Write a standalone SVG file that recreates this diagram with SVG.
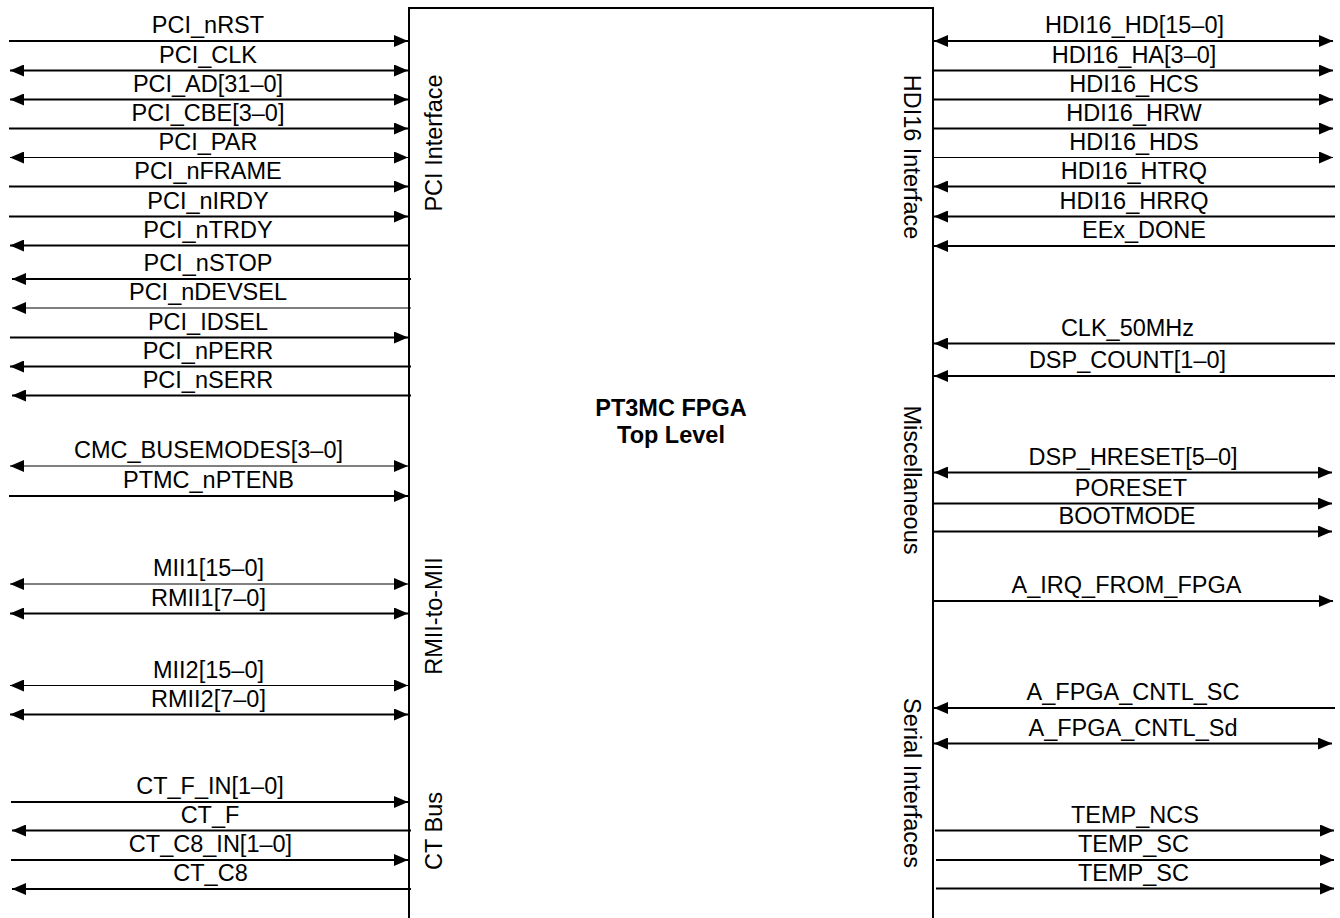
<svg xmlns="http://www.w3.org/2000/svg" width="1340" height="918" viewBox="0 0 1340 918">
<style>
text{font-family:"Liberation Sans",Arial,sans-serif;font-size:23.5px;fill:#000}
.lbl{text-anchor:middle}
.t{font-weight:bold;text-anchor:middle}
.w{stroke:#000;stroke-width:2;fill:none}
.n{stroke:#000;stroke-width:1;fill:none}
.box{stroke:#000;stroke-width:2;fill:#fff}
</style>
<defs>
<marker id="ah" markerUnits="userSpaceOnUse" viewBox="0 0 14 12" refX="14" refY="6" markerWidth="14" markerHeight="12" orient="auto-start-reverse">
<path d="M0,0 L14,6 L0,12 z" fill="#000"/>
</marker>
</defs>
<rect width="1340" height="918" fill="#fff"/>
<g id="fpga">
<path class="box" d="M409,930 L409,8 L933,8 L933,930"/>
<text class="t" x="671" y="416">PT3MC FPGA</text>
<text class="t" x="671" y="443">Top Level</text>
<text class="lbl" transform="translate(442,143) rotate(-90)">PCI Interface</text>
<text class="lbl" transform="translate(442,616) rotate(-90)">RMII-to-MII</text>
<text class="lbl" transform="translate(442,831) rotate(-90)">CT Bus</text>
<text class="lbl" transform="translate(904,157) rotate(90)">HDI16 Interface</text>
<text class="lbl" transform="translate(904,480) rotate(90)">Miscellaneous</text>
<text class="lbl" transform="translate(904,783) rotate(90)">Serial Interfaces</text>
</g>
<g id="connectors">
<!-- left side -->
<line class="w" x1="9" y1="41" x2="408" y2="41" marker-end="url(#ah)"/>
<line class="w" x1="10" y1="70.5" x2="408" y2="70.5" marker-start="url(#ah)" marker-end="url(#ah)"/>
<line class="w" x1="10" y1="99.5" x2="408" y2="99.5" marker-start="url(#ah)" marker-end="url(#ah)"/>
<line class="w" x1="9" y1="128.5" x2="408" y2="128.5" marker-end="url(#ah)"/>
<line class="n" x1="10" y1="157.5" x2="408" y2="157.5" marker-start="url(#ah)" marker-end="url(#ah)"/>
<line class="w" x1="9" y1="186.5" x2="408" y2="186.5" marker-end="url(#ah)"/>
<line class="w" x1="9" y1="216.5" x2="408" y2="216.5" marker-end="url(#ah)"/>
<line class="w" x1="409" y1="245.5" x2="10" y2="245.5" marker-end="url(#ah)"/>
<line class="w" x1="411" y1="279" x2="12" y2="279" marker-end="url(#ah)"/>
<line class="n" x1="411" y1="308" x2="12" y2="308" marker-end="url(#ah)"/>
<line class="w" x1="10" y1="337.5" x2="408" y2="337.5" marker-end="url(#ah)"/>
<line class="w" x1="411" y1="366.5" x2="10" y2="366.5" marker-end="url(#ah)"/>
<line class="w" x1="411" y1="395.5" x2="12" y2="395.5" marker-end="url(#ah)"/>
<line class="n" x1="10" y1="466" x2="408" y2="466" marker-start="url(#ah)" marker-end="url(#ah)"/>
<line class="w" x1="9" y1="496" x2="408" y2="496" marker-end="url(#ah)"/>
<line class="n" x1="10" y1="584" x2="408" y2="584" marker-start="url(#ah)" marker-end="url(#ah)"/>
<line class="w" x1="10" y1="613.5" x2="408" y2="613.5" marker-start="url(#ah)" marker-end="url(#ah)"/>
<line class="n" x1="10" y1="685.5" x2="408" y2="685.5" marker-start="url(#ah)" marker-end="url(#ah)"/>
<line class="w" x1="10" y1="714.5" x2="408" y2="714.5" marker-start="url(#ah)" marker-end="url(#ah)"/>
<line class="w" x1="11" y1="802" x2="408" y2="802" marker-end="url(#ah)"/>
<line class="w" x1="411" y1="830.5" x2="12" y2="830.5" marker-end="url(#ah)"/>
<line class="w" x1="11" y1="860" x2="408" y2="860" marker-end="url(#ah)"/>
<line class="w" x1="411" y1="889" x2="12" y2="889" marker-end="url(#ah)"/>
<!-- right side -->
<line class="w" x1="934" y1="41" x2="1333" y2="41" marker-start="url(#ah)" marker-end="url(#ah)"/>
<line class="w" x1="933" y1="70.5" x2="1333" y2="70.5" marker-end="url(#ah)"/>
<line class="w" x1="933" y1="99.5" x2="1333" y2="99.5" marker-end="url(#ah)"/>
<line class="w" x1="933" y1="128.5" x2="1333" y2="128.5" marker-end="url(#ah)"/>
<line class="n" x1="933" y1="157.5" x2="1333" y2="157.5" marker-end="url(#ah)"/>
<line class="w" x1="1335" y1="186.5" x2="934" y2="186.5" marker-end="url(#ah)"/>
<line class="w" x1="1335" y1="216.5" x2="934" y2="216.5" marker-end="url(#ah)"/>
<line class="w" x1="1335" y1="246" x2="934" y2="246" marker-end="url(#ah)"/>
<line class="w" x1="1335" y1="343.5" x2="934" y2="343.5" marker-end="url(#ah)"/>
<line class="w" x1="1335" y1="376" x2="934" y2="376" marker-end="url(#ah)"/>
<line class="w" x1="934" y1="472.5" x2="1332" y2="472.5" marker-start="url(#ah)" marker-end="url(#ah)"/>
<line class="w" x1="933" y1="503.5" x2="1332" y2="503.5" marker-end="url(#ah)"/>
<line class="w" x1="933" y1="531.5" x2="1332" y2="531.5" marker-end="url(#ah)"/>
<line class="w" x1="933" y1="601" x2="1333" y2="601" marker-end="url(#ah)"/>
<line class="w" x1="1335" y1="708" x2="934" y2="708" marker-end="url(#ah)"/>
<line class="w" x1="934" y1="743.5" x2="1332" y2="743.5" marker-start="url(#ah)" marker-end="url(#ah)"/>
<line class="w" x1="935" y1="830.5" x2="1334" y2="830.5" marker-end="url(#ah)"/>
<line class="w" x1="936" y1="860" x2="1334" y2="860" marker-end="url(#ah)"/>
<line class="w" x1="936" y1="888.5" x2="1334" y2="888.5" marker-end="url(#ah)"/>
</g>
<g id="labels">
<text class="lbl" x="208" y="33">PCI_nRST</text>
<text class="lbl" x="208" y="62.5">PCI_CLK</text>
<text class="lbl" x="208" y="91.5">PCI_AD[31–0]</text>
<text class="lbl" x="208" y="120.5">PCI_CBE[3–0]</text>
<text class="lbl" x="208" y="149.5">PCI_PAR</text>
<text class="lbl" x="208" y="178.5">PCI_nFRAME</text>
<text class="lbl" x="208" y="208.5">PCI_nIRDY</text>
<text class="lbl" x="208" y="237.5">PCI_nTRDY</text>
<text class="lbl" x="208" y="271">PCI_nSTOP</text>
<text class="lbl" x="208" y="300">PCI_nDEVSEL</text>
<text class="lbl" x="208" y="329.5">PCI_IDSEL</text>
<text class="lbl" x="208" y="358.5">PCI_nPERR</text>
<text class="lbl" x="208" y="387.5">PCI_nSERR</text>
<text class="lbl" x="208.5" y="458">CMC_BUSEMODES[3–0]</text>
<text class="lbl" x="208.5" y="488">PTMC_nPTENB</text>
<text class="lbl" x="208.5" y="576">MII1[15–0]</text>
<text class="lbl" x="208.5" y="605.5">RMII1[7–0]</text>
<text class="lbl" x="208.5" y="677.5">MII2[15–0]</text>
<text class="lbl" x="208.5" y="706.5">RMII2[7–0]</text>
<text class="lbl" x="210" y="794">CT_F_IN[1–0]</text>
<text class="lbl" x="210" y="822.5">CT_F</text>
<text class="lbl" x="210.5" y="852">CT_C8_IN[1–0]</text>
<text class="lbl" x="210.5" y="881">CT_C8</text>
<text class="lbl" x="1134.5" y="33">HDI16_HD[15–0]</text>
<text class="lbl" x="1134" y="62.5">HDI16_HA[3–0]</text>
<text class="lbl" x="1134" y="91.5">HDI16_HCS</text>
<text class="lbl" x="1134" y="120.5">HDI16_HRW</text>
<text class="lbl" x="1134" y="149.5">HDI16_HDS</text>
<text class="lbl" x="1134" y="178.5">HDI16_HTRQ</text>
<text class="lbl" x="1134" y="208.5">HDI16_HRRQ</text>
<text class="lbl" x="1144" y="238">EEx_DONE</text>
<text class="lbl" x="1127.5" y="335.5">CLK_50MHz</text>
<text class="lbl" x="1127.5" y="368">DSP_COUNT[1–0]</text>
<text class="lbl" x="1133" y="464.5">DSP_HRESET[5–0]</text>
<text class="lbl" x="1131" y="495.5">PORESET</text>
<text class="lbl" x="1127" y="523.5">BOOTMODE</text>
<text class="lbl" x="1126.5" y="593">A_IRQ_FROM_FPGA</text>
<text class="lbl" x="1133" y="700">A_FPGA_CNTL_SC</text>
<text class="lbl" x="1133" y="735.5">A_FPGA_CNTL_Sd</text>
<text class="lbl" x="1135" y="822.5">TEMP_NCS</text>
<text class="lbl" x="1133.5" y="852">TEMP_SC</text>
<text class="lbl" x="1133.5" y="880.5">TEMP_SC</text>
</g>
</svg>
